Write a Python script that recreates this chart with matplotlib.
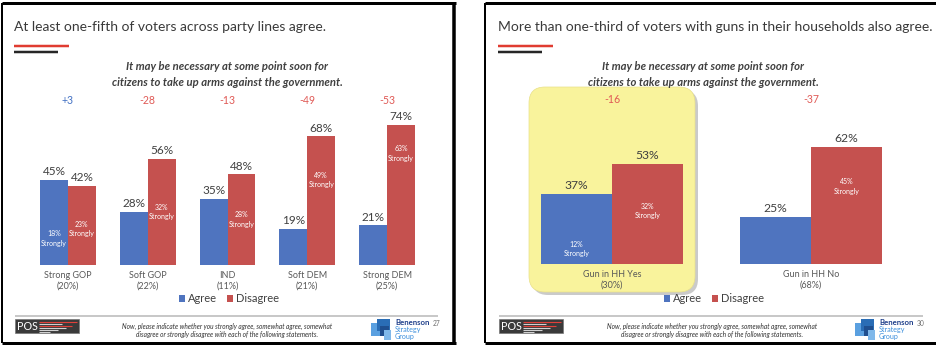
import matplotlib
matplotlib.use("Agg")
import matplotlib.pyplot as plt
from matplotlib.patches import Rectangle, FancyBboxPatch
import numpy as np

plt.rcParams['font.family'] = ['Lato', 'DejaVu Sans']

# ---------------- data ----------------
left_title = "At least one-fifth of voters across party lines agree."
right_title = "More than one-third of voters with guns in their households also agree."
question = "It may be necessary at some point soon for\ncitizens to take up arms against the government."
footnote = ("Now, please indicate whether you strongly agree, somewhat agree, somewhat\n"
            "disagree or strongly disagree with each of the following statements.")

left_categories = ["Strong GOP\n(20%)", "Soft GOP\n(22%)", "IND\n(11%)", "Soft DEM\n(21%)", "Strong DEM\n(25%)"]
left_agree = [45, 28, 35, 19, 21]
left_disagree = [42, 56, 48, 68, 74]
left_agree_strong = [18, None, None, None, None]
left_disagree_strong = [23, 32, 28, 49, 63]

right_categories = ["Gun in HH Yes\n(30%)", "Gun in HH No\n(68%)"]
right_agree = [37, 25]
right_disagree = [53, 62]
right_agree_strong = [12, None]
right_disagree_strong = [32, 45]

page_numbers = ["27", "30"]

# ---------------- style ----------------
BLUE = '#4f74bf'
RED = '#c5514f'
DIFF_BLUE = '#4472c4'
DIFF_RED = '#e05a56'
TXT = '#404040'
CAT = '#595959'

W, H = 936, 346
fig = plt.figure(figsize=(W / 100, H / 100), dpi=100)
fig.patch.set_facecolor('white')
bg = fig.add_axes([0, 0, 1, 1], zorder=0)
bg.set_xlim(0, W)
bg.set_ylim(H, 0)
bg.axis('off')
renderer = fig.canvas.get_renderer()


def fit(ax, x, y, s, width_px, **kw):
    t = ax.text(x, y, s, **kw)
    w = t.get_window_extent(renderer).width
    t.set_fontsize(t.get_fontsize() * width_px / w)
    return t


def px_lw(p):
    return p * 0.72


def slide_frame(x0, x1, y0, y1, draw_right=True):
    bg.plot([x0, x0], [y0, y1], color='black', lw=px_lw(2), solid_capstyle='butt')
    bg.plot([x0, x1 + 2], [y0, y0], color='black', lw=px_lw(3), solid_capstyle='butt')
    bg.plot([x0, x1 + 2], [y1, y1], color='black', lw=px_lw(3), solid_capstyle='butt')
    if draw_right:
        bg.plot([x1, x1], [y0, y1], color='black', lw=px_lw(3.5), solid_capstyle='butt')


def decorations(xoff, title, title_w, sub_cx, foot_cx, foot_x1, benen_x, page):
    # title and accent lines
    fit(bg, xoff + 14, 27, title, title_w, fontsize=11, color='#3a3a3a', va='center', ha='left')
    bg.plot([xoff + 14, xoff + 69], [46, 46], color='#e03c31', lw=px_lw(2.5), solid_capstyle='butt')
    bg.plot([xoff + 14, xoff + 58], [52, 52], color='#262626', lw=px_lw(2.5), solid_capstyle='butt')
    # question
    fit(bg, sub_cx, 74.5, question, 232, fontsize=7, color=TXT, style='italic',
        fontweight='bold', ha='center', va='center', linespacing=1.45)
    # footer line
    bg.plot([xoff + 15, foot_x1], [316, 316], color='#c8c8c8', lw=px_lw(2), solid_capstyle='butt')
    # POS logo
    bg.add_patch(Rectangle((xoff + 15, 319), 64, 14, facecolor='#3a3a3a', edgecolor='#777777', lw=0.5))
    fit(bg, xoff + 27, 326.5, "POS", 21, fontsize=7, color='white', ha='center', va='center')
    for yy, a, b, c in [(321.5, 39, 77, '#e0403a'), (323.5, 39, 62, '#d0d0d0'),
                        (325.5, 39, 72, '#e0403a'), (327.5, 39, 66, '#d0d0d0'),
                        (329.5, 39, 58, '#d0d0d0'), (331.5, 39, 50, '#d0d0d0')]:
        bg.plot([xoff + a, xoff + b], [yy, yy], color=c, lw=0.8, solid_capstyle='butt')
    # footnote
    fit(bg, foot_cx, 330.5, footnote, 210, fontsize=4.5, color='#303030', style='italic',
        ha='center', va='center', linespacing=1.3)
    # Benenson logo
    bx = benen_x
    bg.add_patch(Rectangle((bx - 24, 323), 14, 13, facecolor='#5aa0e0', edgecolor='none'))
    bg.add_patch(Rectangle((bx - 18, 319), 13, 12, facecolor='#2a6db5', edgecolor='none'))
    bg.add_patch(Rectangle((bx - 15, 326), 9, 10, facecolor='#1f4f8f', edgecolor='none'))
    bg.add_patch(Rectangle((bx - 11, 330), 7, 10, facecolor='#7fb8ea', edgecolor='none'))
    fit(bg, bx, 322.5, "Benenson", 34, fontsize=5.5, color='#1f3f8a', fontweight='bold', ha='left', va='center')
    fit(bg, bx, 329.5, "Strategy", 26, fontsize=5.5, color='#3d8fdc', ha='left', va='center')
    fit(bg, bx, 336.5, "Group", 20, fontsize=5.5, color='#3d8fdc', ha='left', va='center')
    bg.text(bx + 38, 323.5, page, fontsize=4.8, color='#707070', ha='left', va='center')


def bar_chart(rect_px, cats, agree, disagree, agree_s, disagree_s, width, vfs, legend_xy):
    l, r, bot, top = rect_px
    ax = fig.add_axes([l / W, 1 - bot / H, (r - l) / W, (bot - top) / H], zorder=2)
    ax.patch.set_alpha(0)
    x = np.arange(len(cats))
    b1 = ax.bar(x - width / 2, agree, width, color=BLUE, label='Agree')
    b2 = ax.bar(x + width / 2, disagree, width, color=RED, label='Disagree')
    ax.set_xlim(-0.5, len(cats) - 0.5)
    ax.set_ylim(0, 80)
    for s in ax.spines.values():
        s.set_visible(False)
    ax.set_yticks([])
    ax.set_xticks(x)
    ax.set_xticklabels(cats, fontsize=6.5, color=CAT, linespacing=1.35)
    ax.tick_params(axis='x', length=0, pad=4)
    for i in range(len(cats)):
        ax.annotate(f"{agree[i]}%", (x[i] - width / 2, agree[i]), xytext=(0, 2),
                    textcoords='offset points', ha='center', va='bottom', fontsize=vfs, color=TXT)
        ax.annotate(f"{disagree[i]}%", (x[i] + width / 2, disagree[i]), xytext=(0, 2),
                    textcoords='offset points', ha='center', va='bottom', fontsize=vfs, color=TXT)
        if agree_s[i] is not None:
            ax.text(x[i] - width / 2, agree_s[i] - 4, f"{agree_s[i]}%\nStrongly", ha='center',
                    va='center', fontsize=5, color='white', linespacing=1.4)
        if disagree_s[i] is not None:
            ax.text(x[i] + width / 2, disagree_s[i] - 4, f"{disagree_s[i]}%\nStrongly", ha='center',
                    va='center', fontsize=5, color='white', linespacing=1.4)
        d = agree[i] - disagree[i]
        ax.text(x[i], 87.3, f"{d:+d}" if d > 0 else f"{d}", ha='center', va='center',
                fontsize=7.6, color=DIFF_BLUE if d > 0 else DIFF_RED, clip_on=False)
    ax.legend(handles=[b1, b2], loc='center',
              bbox_to_anchor=(legend_xy[0] / W, 1 - legend_xy[1] / H),
              bbox_transform=fig.transFigure, ncol=2, frameon=False, fontsize=8,
              handlelength=0.55, handleheight=0.55, handletextpad=0.3, columnspacing=0.9,
              labelcolor=TXT)
    return ax


# ---------------- slide frames ----------------
slide_frame(1.5, 453.5, 3, 343)
slide_frame(485, 940, 3, 343, draw_right=False)

# yellow highlight on right slide
bg.add_patch(FancyBboxPatch((532, 90), 166, 205, boxstyle="round,pad=0,rounding_size=16",
                            facecolor='#a8a8a8', edgecolor='none', alpha=0.6, zorder=1))
bg.add_patch(FancyBboxPatch((529, 87), 166, 205, boxstyle="round,pad=0,rounding_size=16",
                            facecolor='#f9f39c', edgecolor='#e8e08a', lw=0.5, zorder=2))

decorations(0, left_title, 311, 227, 227, 438, 395, page_numbers[0])
decorations(484, right_title, 435, 703, 712, 923, 879, page_numbers[1])

bar_chart((28, 427, 265, 113.8), left_categories, left_agree, left_disagree,
          left_agree_strong, left_disagree_strong, 0.35, 8.5, (229, 299))
bar_chart((512.5, 910.5, 264, 112.8), right_categories, right_agree, right_disagree,
          right_agree_strong, right_disagree_strong, 0.357, 8.7, (714, 299))

fig.savefig("out.png", dpi=100, facecolor='white')
